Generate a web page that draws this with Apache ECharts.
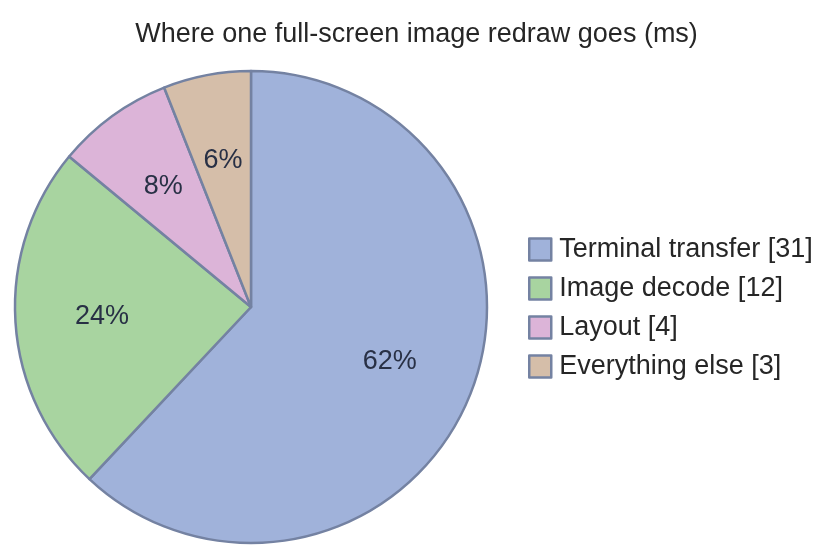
<!DOCTYPE html>
<html>
<head>
<meta charset="utf-8">
<script src="https://cdn.jsdelivr.net/npm/echarts@6/dist/echarts.min.js"></script>
<style>
html,body{margin:0;padding:0;background:#fff;}
#chart{width:833px;height:559px;}
</style>
</head>
<body>
<div id="chart"></div>
<script>
const categories = ['Terminal transfer', 'Image decode', 'Layout', 'Everything else'];
const values = [31, 12, 4, 3];
const colors = ['#a0b2da', '#a8d4a0', '#dcb4d8', '#d5bea9'];
const titleText = 'Where one full-screen image redraw goes (ms)';

const FONT = "'Liberation Sans', Arial, Helvetica, sans-serif";
const total = values.reduce((a, b) => a + b, 0);
const data = categories.map((c, i) => ({ name: c, value: values[i], itemStyle: { color: colors[i] } }));
const labelData = categories.map((c, i) => ({ name: c, value: values[i] }));

const chart = echarts.init(document.getElementById('chart'));
const R = 236;
chart.setOption({
  animation: false,
  title: {
    text: titleText,
    left: 'center',
    top: 16,
    textStyle: { fontFamily: FONT, fontSize: 27, fontWeight: 'normal', color: '#262626' }
  },
  legend: {
    orient: 'vertical',
    left: 523,
    top: 231,
    itemWidth: 22,
    itemHeight: 22,
    itemGap: 12,
    icon: 'rect',
    data: categories,
    formatter: function (name) {
      const i = categories.indexOf(name);
      return name + ' [' + values[i] + ']';
    },
    itemStyle: { borderColor: '#7482a2', borderWidth: 2.5 },
    textStyle: { fontFamily: FONT, fontSize: 27, lineHeight: 26, color: '#262626', padding: [0, 0, 0, 3] }
  },
  series: [
    {
      type: 'pie',
      center: [251, 307],
      radius: [0, R],
      startAngle: 90,
      clockwise: true,
      data: data,
      label: { show: false },
      labelLine: { show: false },
      itemStyle: { borderColor: '#7482a2', borderWidth: 2.5 },
      emphasis: { disabled: true }
    },
    {
      type: 'pie',
      center: [251, 307],
      radius: [R * 0.24, R],
      startAngle: 90,
      clockwise: true,
      silent: true,
      data: labelData,
      itemStyle: { color: 'rgba(0,0,0,0)', borderWidth: 0 },
      labelLine: { show: false },
      label: {
        show: true,
        position: 'inside',
        formatter: function (p) { return Math.round(p.value / total * 100) + '%'; },
        fontFamily: FONT,
        fontSize: 27,
        color: '#283045'
      },
      emphasis: { disabled: true },
      legendHoverLink: false
    }
  ]
});
</script>
</body>
</html>
